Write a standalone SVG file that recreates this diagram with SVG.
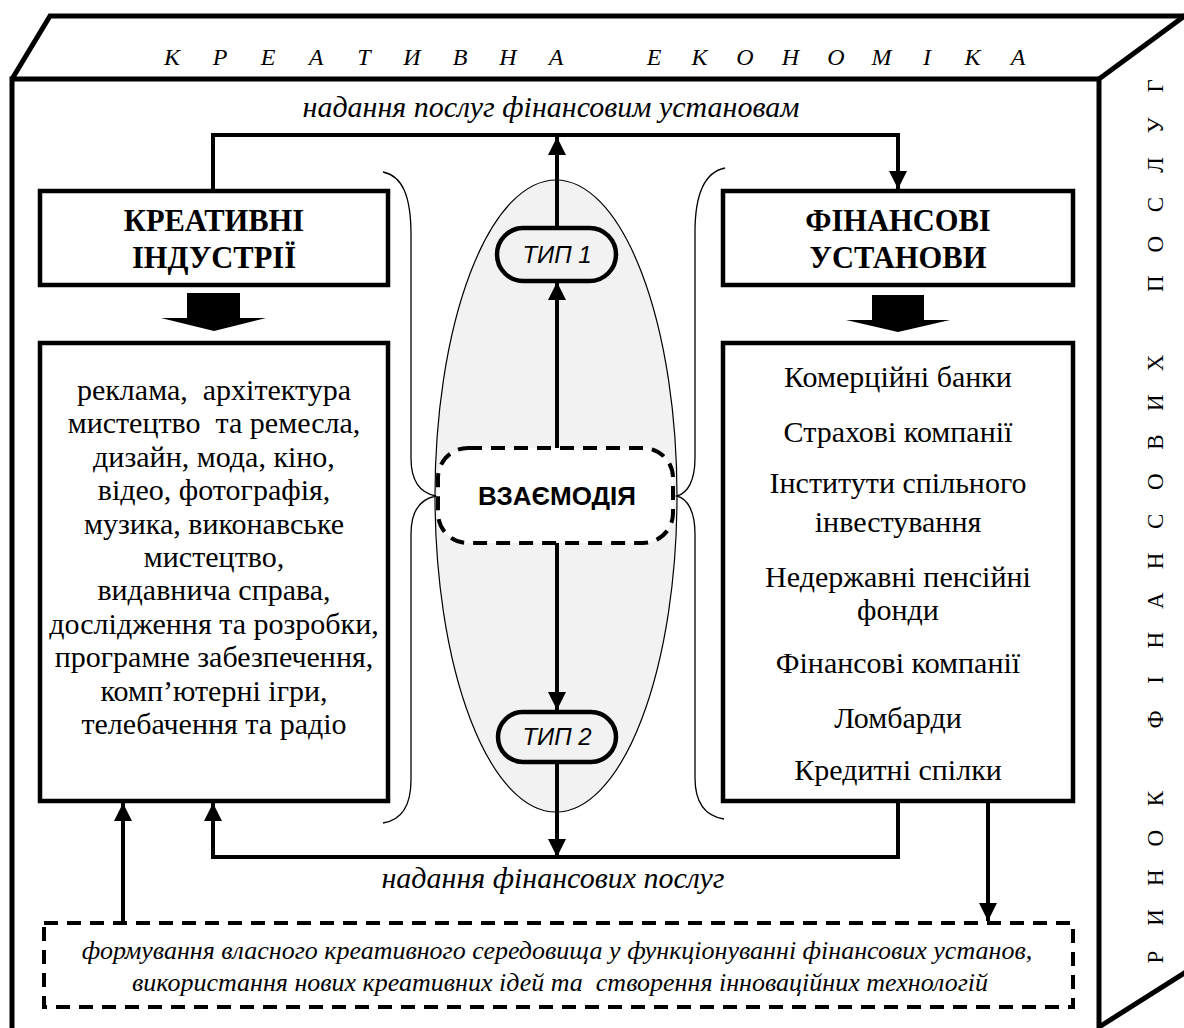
<svg xmlns="http://www.w3.org/2000/svg" width="1184" height="1028" viewBox="0 0 1184 1028">
<style>
.frame{fill:none;stroke:#000;stroke-width:5;stroke-linejoin:miter}
.box{fill:#fff;stroke:#000;stroke-width:4.5}
.conn{fill:none;stroke:#000;stroke-width:4}
.brace{fill:none;stroke:#000;stroke-width:1.3}
.dash{fill:#fff;stroke:#000;stroke-width:4;stroke-dasharray:14 9}
.pill{fill:#f2f2f2;stroke:#000;stroke-width:4.5}
.serif{font-family:"Liberation Serif","Times New Roman",serif}
.sans{font-family:"Liberation Sans",Arial,sans-serif}
.ttl{font-size:24px;font-style:italic}
.hdr{font-size:30.5px;font-weight:bold}
.item{font-size:30px}
.lbl{font-size:30px;font-style:italic}
.note{font-size:26px;font-style:italic}
.vt{font-size:23px}
.pt{font-size:24px;font-style:italic}
</style>
<defs>
<marker id="ah" viewBox="0 0 18 18" refX="18" refY="9" markerWidth="18" markerHeight="18" markerUnits="userSpaceOnUse" orient="auto">
<path d="M0,0 L18,9 L0,18 z" fill="#000"/>
</marker>
</defs>

<g id="frame">
<path class="frame" d="M12,1032 V79 H1099 V1032"/>
<path class="frame" d="M12,79 L50,16 H1190"/>
<path class="frame" d="M1099,79 L1186,15"/>
<path class="frame" d="M1099,1027 L1186,972"/>
<text class="serif ttl" y="65" text-anchor="middle" x="172 220 268 316 364 412 460 508 556">КРЕАТИВНА</text>
<text class="serif ttl" y="65" text-anchor="middle" x="654 699.5 745 790.5 836 881.5 927 972.5 1018">ЕКОНОМІКА</text>
<text class="serif vt" transform="translate(1163,0) rotate(-90)" y="0" text-anchor="middle" x="-957 -917.4 -877.8 -838.2 -798.6 -719.4 -679.8 -640.2 -600.6 -561 -521.4 -481.8 -442.2 -402.6 -363 -283.8 -244.2 -204.6 -165 -125.4 -85.8">РИНОКФІНАНСОВИХПОСЛУГ</text>
</g>

<g id="ellipse">
<ellipse cx="556" cy="496" rx="121" ry="316" fill="#f2f2f2" stroke="#000" stroke-width="1.2"/>
</g>

<g id="braces">
<path class="brace" d="M383,172 C402,176 411,195 411,235 L411,458 C411,480 420,493 436,496 C420,499 411,512 411,534 L411,780 C411,805 402,820 383,823"/>
<path class="brace" d="M725,168 C705,172 695,192 695,232 L695,458 C695,480 688,493 677,496 C688,499 695,512 695,534 L695,778 C695,802 705,816 724,819"/>
</g>

<g id="connectors">
<path class="conn" d="M213,191 V135 H898 V189" marker-end="url(#ah)"/>
<path class="conn" d="M557,448 V282" marker-end="url(#ah)"/>
<path class="conn" d="M557,228 V137" marker-end="url(#ah)"/>
<path class="conn" d="M557,543 V710" marker-end="url(#ah)"/>
<path class="conn" d="M557,762 V857" marker-end="url(#ah)"/>
<path class="conn" d="M898,801 V857 H213 V803" marker-end="url(#ah)"/>
<path class="conn" d="M988,801 V921" marker-end="url(#ah)"/>
<path class="conn" d="M123,923 V803" marker-end="url(#ah)"/>
<text class="serif lbl" x="551" y="117" text-anchor="middle">надання послуг фінансовим установам</text>
<text class="serif lbl" x="553" y="888" text-anchor="middle">надання фінансових послуг</text>
</g>

<g id="creative-industries">
<rect class="box" x="40" y="191" width="348" height="94"/>
<text class="serif hdr" x="214" y="231" text-anchor="middle">КРЕАТИВНІ</text>
<text class="serif hdr" x="214" y="268" text-anchor="middle">ІНДУСТРІЇ</text>
<polygon points="187,293 240,293 240,318 266,318 214,331 161,318 187,318" fill="#000"/>
</g>

<g id="creative-list">
<rect class="box" x="40" y="343" width="348" height="458"/>
<g class="serif item" text-anchor="middle">
<text x="214" y="400" xml:space="preserve">реклама,  архітектура</text>
<text x="214" y="433.4" xml:space="preserve">мистецтво  та ремесла,</text>
<text x="214" y="466.8">дизайн, мода, кіно,</text>
<text x="214" y="500.2">відео, фотографія,</text>
<text x="214" y="533.6">музика, виконавське</text>
<text x="214" y="567">мистецтво,</text>
<text x="214" y="600.4">видавнича справа,</text>
<text x="214" y="633.8">дослідження та розробки,</text>
<text x="214" y="667.2">програмне забезпечення,</text>
<text x="214" y="700.6">комп’ютерні ігри,</text>
<text x="214" y="734">телебачення та радіо</text>
</g>
</g>

<g id="financial-institutions">
<rect class="box" x="723" y="191" width="350" height="94"/>
<text class="serif hdr" x="898" y="231" text-anchor="middle">ФІНАНСОВІ</text>
<text class="serif hdr" x="898" y="268" text-anchor="middle">УСТАНОВИ</text>
<polygon points="872,295 924,295 924,320 950,320 898,332 846,320 872,320" fill="#000"/>
</g>

<g id="financial-list">
<rect class="box" x="723" y="343" width="350" height="458"/>
<g class="serif item" text-anchor="middle">
<text x="898" y="387">Комерційні банки</text>
<text x="898" y="442">Страхові компанії</text>
<text x="898" y="493">Інститути спільного</text>
<text x="898" y="532">інвестування</text>
<text x="898" y="587">Недержавні пенсійні</text>
<text x="898" y="620">фонди</text>
<text x="898" y="673">Фінансові компанії</text>
<text x="898" y="728">Ломбарди</text>
<text x="898" y="780">Кредитні спілки</text>
</g>
</g>

<g id="type1">
<rect class="pill" x="497" y="228" width="119" height="53" rx="26.5"/>
<text class="sans pt" x="557" y="263" text-anchor="middle">ТИП 1</text>
</g>

<g id="interaction">
<rect class="dash" x="438" y="448" width="235" height="95" rx="30"/>
<text class="sans" x="557" y="505" font-size="26" font-weight="bold" text-anchor="middle">ВЗАЄМОДІЯ</text>
</g>

<g id="type2">
<rect class="pill" x="498" y="712" width="118" height="50" rx="25"/>
<text class="sans pt" x="557" y="745" text-anchor="middle">ТИП 2</text>
</g>

<g id="creative-environment">
<rect class="dash" x="44" y="923" width="1029" height="84"/>
<text class="serif note" x="557" y="959" text-anchor="middle">формування власного креативного середовища у функціонуванні фінансових установ,</text>
<text class="serif note" x="560" y="991" text-anchor="middle" xml:space="preserve">використання нових креативних ідей та  створення інноваційних технологій</text>
</g>
</svg>
